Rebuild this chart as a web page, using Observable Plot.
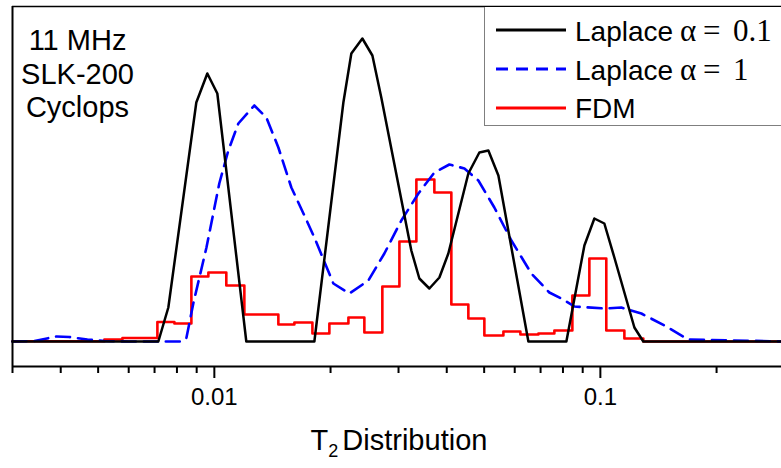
<!DOCTYPE html>
<html>
<head>
<meta charset="utf-8">
<script src="https://cdn.jsdelivr.net/npm/d3@7"></script>
<script src="https://cdn.jsdelivr.net/npm/@observablehq/plot@0.6"></script>
<style>
  body { margin: 0; background: #fff; }
  #wrap { position: relative; width: 781px; height: 468px; overflow: hidden; font-family: "Liberation Sans", Arial, sans-serif; }
  #xlabel { position: absolute; left: 0; width: 798px; top: 424px; text-align: center; font-size: 29px; color: #000; white-space: nowrap; }
  #xlabel sub { font-size: 18px; vertical-align: -7px; margin-right: 4px; }
  #legend { position: absolute; left: 484px; top: 7px; width: 320px; height: 118px; background: #fff; border-left: 1.5px solid #7f7f7f; border-bottom: 1.5px solid #7f7f7f; }
</style>
</head>
<body>
<div id="wrap"></div>
<script>
// ---- Data (amplitudes in arbitrary units) ----
const blackT2 = [0.003, 0.00716, 0.0076, 0.00898, 0.00959, 0.01018, 0.0121, 0.01816, 0.02159, 0.02264, 0.02418, 0.02567, 0.02707, 0.03238, 0.03397, 0.03606, 0.03828, 0.04038, 0.0455, 0.04859, 0.05127, 0.05443, 0.06509, 0.08165, 0.09091, 0.09649, 0.1024, 0.1087, 0.1225, 0.1292, 0.3];
const blackAmp = [0, 0, 34, 239, 268, 248, 0, 0, 239, 288, 303, 286, 244, 91, 63, 53, 64, 88, 168, 189, 191, 166, 0, 0, 96, 123, 118, 84, 14, 0, 0];

const blueT2 = [0.003, 0.00342, 0.0039, 0.00421, 0.00469, 0.00519, 0.006, 0.0076, 0.00821, 0.00846, 0.00882, 0.00954, 0.0103, 0.01087, 0.01154, 0.01269, 0.01364, 0.01465, 0.01583, 0.01711, 0.01816, 0.02034, 0.02238, 0.02506, 0.02757, 0.03051, 0.03378, 0.03715, 0.04063, 0.04444, 0.0483, 0.05313, 0.05881, 0.06626, 0.07377, 0.07925, 0.08563, 0.1024, 0.1133, 0.1277, 0.1465, 0.169, 0.3];
const blueAmp = [0, 0.5, 5, 4.5, 2, 0.5, 0, 0, 0, 3, 38, 94, 158, 191, 218, 236, 224, 194, 154, 126, 104, 58, 48, 61, 88, 121, 148, 169, 177, 173, 161, 134, 101, 68, 49, 43, 35, 33, 34, 28, 16, 2, 0];

const redT2 = [0.003, 0.00519, 0.00578, 0.00712, 0.00788, 0.00872, 0.00965, 0.01074, 0.01196, 0.01324, 0.01465, 0.01612, 0.01795, 0.01986, 0.02225, 0.02447, 0.02724, 0.03016, 0.03337, 0.03715, 0.04111, 0.0455, 0.05006, 0.05608, 0.06206, 0.0691, 0.07601, 0.08462, 0.09365, 0.1036, 0.1154, 0.1292, 0.3];
const redAmp = [0.3, 2, 3.5, 19.5, 18, 65, 69, 56, 27, 27, 17, 19, 8, 18, 24, 9, 55, 100, 162, 149, 37, 23, 6, 10, 7, 8, 11, 46, 83, 11, 3, 0, 0];

const majorTicks = [0.01, 0.1];
const majorLabels = ["0.01", "0.1"];
const minorTicks = [0.003, 0.004, 0.005, 0.006, 0.007, 0.008, 0.009, 0.02, 0.03, 0.04, 0.05, 0.06, 0.07, 0.08, 0.09, 0.2];
const annotation = ["11 MHz\nSLK-200\nCyclops"];
const legendNames = ["Laplace", "Laplace", "FDM"];
const legendAlpha = ["0.1", "1", ""];

const xDomain = [0.003, 0.2946];
const yDomain = [-25, 335];

const zip = (xs, ys) => xs.map((x, i) => ({T2: x, amp: ys[i]}));
const black = zip(blackT2, blackAmp);
const blue = zip(blueT2, blueAmp);
const red = zip(redT2, redAmp);

const chart = Plot.plot({
  width: 781,
  height: 468,
  marginLeft: 12,
  marginRight: 0,
  marginTop: 6,
  marginBottom: 102,
  style: {fontFamily: '"Liberation Sans", Arial, sans-serif', background: "#fff", color: "#000"},
  x: {type: "log", domain: xDomain},
  y: {domain: yDomain, axis: null},
  marks: [
    Plot.line(red, {x: "T2", y: "amp", curve: "step-after", stroke: "#ff0000", strokeWidth: 2.6}),
    Plot.line(blue, {x: "T2", y: "amp", stroke: "#0000ff", strokeWidth: 2.6, strokeDasharray: "14,8"}),
    Plot.line(black, {x: "T2", y: "amp", stroke: "#000", strokeWidth: 2.5}),
    Plot.ruleY([yDomain[1]], {stroke: "#000", strokeWidth: 1.6}),
    Plot.ruleY([yDomain[0]], {stroke: "#000", strokeWidth: 2}),
    Plot.ruleX([xDomain[0]], {stroke: "#000", strokeWidth: 2}),
    Plot.axisX({ticks: majorTicks, tickSize: 12, tickPadding: 9, strokeWidth: 2, fontSize: 24,
      tickFormat: d => majorLabels[majorTicks.indexOf(d)], label: null}),
    Plot.axisX({ticks: minorTicks, tickSize: 7, strokeWidth: 2, tickFormat: () => "", label: null}),
    Plot.text(annotation, {text: d => d, frameAnchor: "top-left", dx: 65, dy: 19, textAnchor: "middle",
      lineAnchor: "top", lineHeight: 1.17, fontSize: 29, fill: "#000"})
  ]
});

const wrap = document.getElementById("wrap");
wrap.appendChild(chart);

// x-axis title with subscript
const xl = document.createElement("div");
xl.id = "xlabel";
xl.innerHTML = "T<sub>2</sub>Distribution";
wrap.appendChild(xl);

// legend box
const styles = [
  {stroke: "#000", dash: null},
  {stroke: "#0000ff", dash: "12,8"},
  {stroke: "#ff0000", dash: null}
];
const ns = "http://www.w3.org/2000/svg";
const leg = document.createElement("div");
leg.id = "legend";
const ls = document.createElementNS(ns, "svg");
ls.setAttribute("width", 320);
ls.setAttribute("height", 118);
function addText(x, y, str, family, size) {
  const t = document.createElementNS(ns, "text");
  t.setAttribute("x", x); t.setAttribute("y", y);
  t.setAttribute("font-size", size);
  t.setAttribute("font-family", family);
  t.textContent = str;
  ls.appendChild(t);
}
const sans = '"Liberation Sans", Arial, sans-serif';
const serif = '"Liberation Serif", "Times New Roman", serif';
legendNames.forEach((name, i) => {
  const yLine = 23 + i * 39;
  const yText = 34 + i * 38.5;
  const ln = document.createElementNS(ns, "line");
  ln.setAttribute("x1", 11); ln.setAttribute("x2", 81);
  ln.setAttribute("y1", yLine); ln.setAttribute("y2", yLine);
  ln.setAttribute("stroke", styles[i].stroke);
  ln.setAttribute("stroke-width", 3);
  if (styles[i].dash) ln.setAttribute("stroke-dasharray", styles[i].dash);
  ls.appendChild(ln);
  addText(90, yText, name, sans, 28);
  if (legendAlpha[i]) {
    addText(195, yText, "α", serif, 31);
    addText(218, yText, "=", serif, 31);
    addText(248, yText, legendAlpha[i], serif, 31);
  }
});
leg.appendChild(ls);
wrap.appendChild(leg);
</script>
</body>
</html>
